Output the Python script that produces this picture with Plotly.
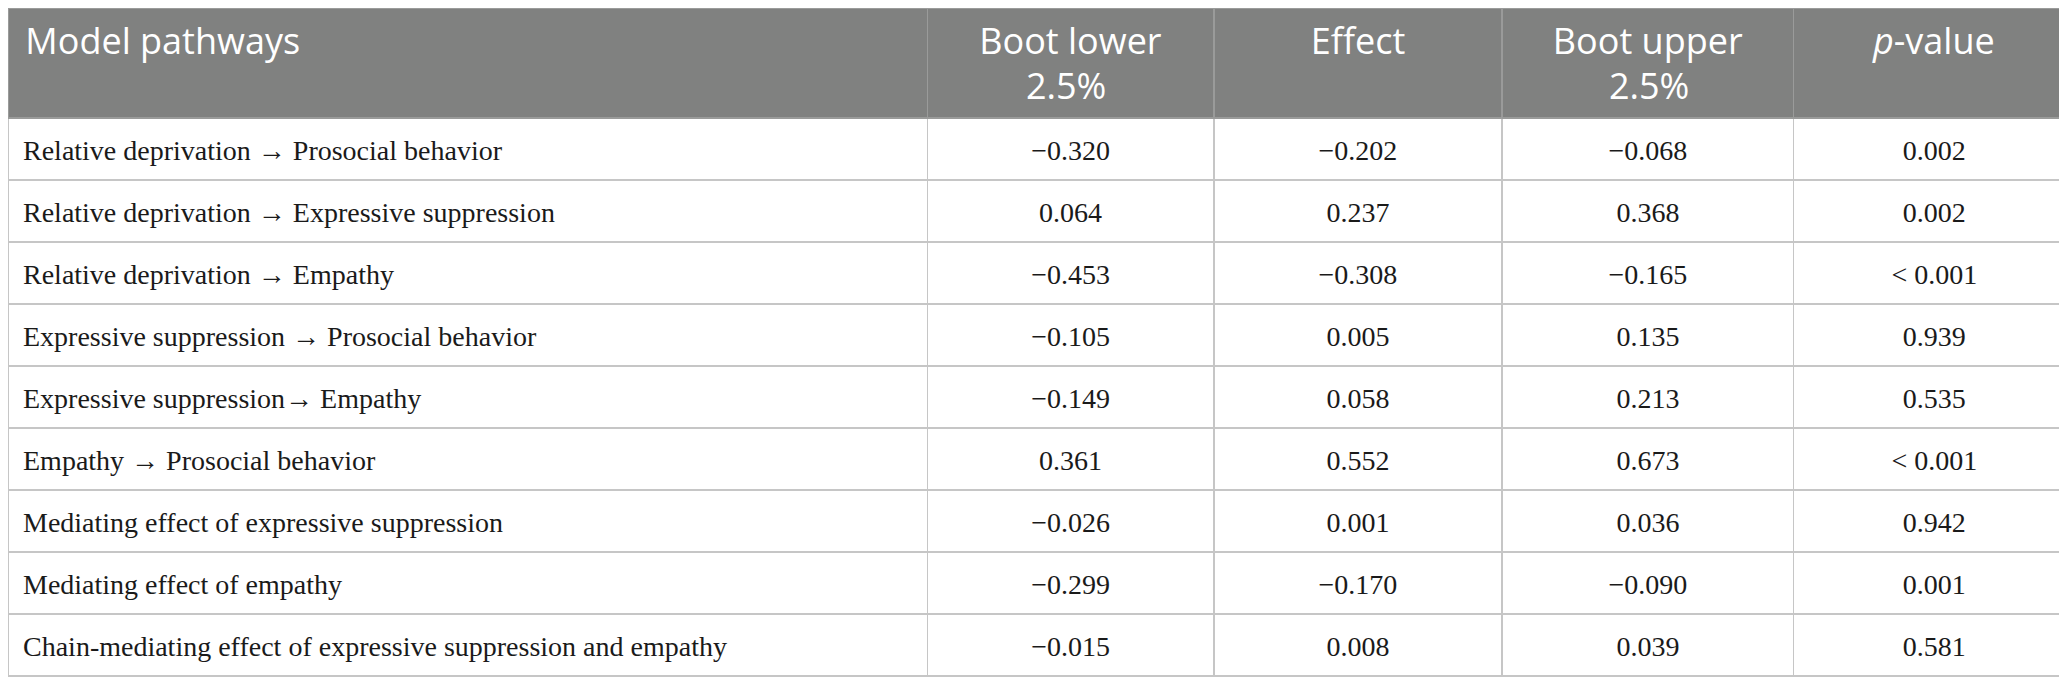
import plotly.graph_objects as go

# table contents
pathways = [
    "Relative deprivation \u2192 Prosocial behavior",
    "Relative deprivation \u2192 Expressive suppression",
    "Relative deprivation \u2192 Empathy",
    "Expressive suppression \u2192 Prosocial behavior",
    "Expressive suppression\u2192 Empathy",
    "Empathy \u2192 Prosocial behavior",
    "Mediating effect of expressive suppression",
    "Mediating effect of empathy",
    "Chain-mediating effect of expressive suppression and empathy",
]
boot_lower = ["\u22120.320", "0.064", "\u22120.453", "\u22120.105", "\u22120.149",
              "0.361", "\u22120.026", "\u22120.299", "\u22120.015"]
effect = ["\u22120.202", "0.237", "\u22120.308", "0.005", "0.058",
          "0.552", "0.001", "\u22120.170", "0.008"]
boot_upper = ["\u22120.068", "0.368", "\u22120.165", "0.135", "0.213",
              "0.673", "0.036", "\u22120.090", "0.039"]
p_values = ["0.002", "0.002", "< 0.001", "0.939", "0.535",
            "< 0.001", "0.942", "0.001", "0.581"]
headers = ["Model pathways", "Boot lower", "Effect", "Boot upper", "<i>p</i>-value"]
header_sub = ["", "2.5%", "", "2.5%", ""]

W, H = 2067, 690
NB = "\u00a0"

# plotly tables top-align text: a raised nbsp at the start makes plotly push
# the line down, so the text sits in the middle of the row.
# (the trailing <br> stops plotly's own word-wrapping from splitting the tags)
LIFT = '<span style="baseline-shift:9px">' + NB + '</span>'


def esc(s):
  return s.replace("<", "&lt;") if "<i>" not in s else s


# plotly left-aligns the lines of a cell, so the 2nd header line is centred by hand
sub_pad = [0, 5, 0, 6, 0]

head_txt = []
for h, sub, n in zip(headers, header_sub, sub_pad):
  h = esc(h)
  if sub:
    h = h + "<br>" + '<span style="baseline-shift:2px">' + NB * n + sub + "</span>"
  head_txt.append(h + "<br>")
head_txt[0] = NB + head_txt[0]

body = [[LIFT + esc(s) + "<br>" for s in pathways]]
for col in [boot_lower, effect, boot_upper, p_values]:
  body.append([LIFT + esc(v) + NB + "<br>" for v in col])

fig = go.Figure(go.Table(
    columnwidth=[918, 286, 288, 291, 281],
    header=dict(values=head_txt,
                fill_color="#808180",
                line=dict(color="#9a9b9a", width=1.5),
                align=["left", "center", "center", "center", "center"],
                font=dict(family="Open Sans", size=36, color="white"),
                height=110),
    cells=dict(values=body,
               fill_color="white",
               line=dict(color="#c6c6c6", width=1.5),
               align=["left", "center", "center", "center", "center"],
               font=dict(family="Liberation Serif", size=28, color="#1a1a1a"),
               height=62),
    domain=dict(x=[0, 1], y=[0, 1]),
))

fig.update_layout(width=W, height=H,
                  margin=dict(l=0, r=0, t=0, b=15),
                  paper_bgcolor="white")

fig.write_html("out.html")
